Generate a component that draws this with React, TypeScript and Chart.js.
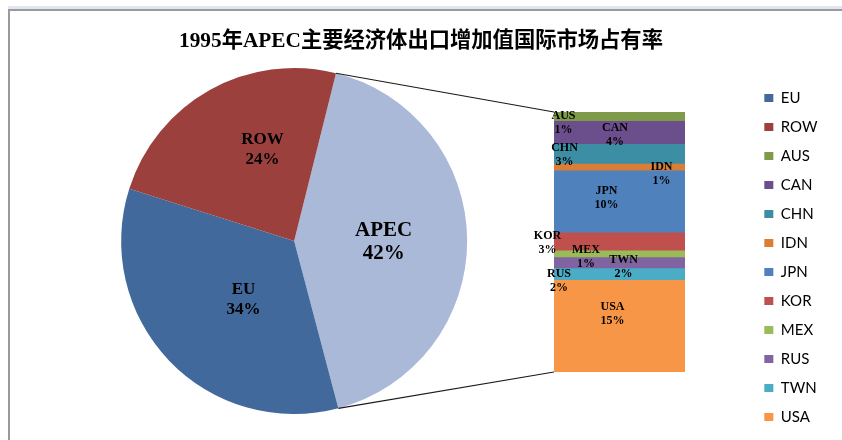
import React, { useEffect, useRef } from 'react';
import { Chart, registerables } from 'chart.js';

Chart.register(...registerables);

// ---------- data ----------
const TITLE = '1995年APEC主要经济体出口增加值国际市场占有率';
const PIE_LABELS = ['APEC', 'EU', 'ROW'];
const PIE_OTHER_LABELS = ['EU', 'ROW'];
const PIE_OTHER_VALUES = [34, 24];
const BAR_LABELS = ['AUS', 'CAN', 'CHN', 'IDN', 'JPN', 'KOR', 'MEX', 'RUS', 'TWN', 'USA'];
const BAR_VALUES = [1.4, 3.7, 3.2, 1.1, 10.0, 2.9, 1.1, 1.8, 1.9, 14.9];

// ---------- styles ----------
const PIE_COLORS = ['#AAB9D7', '#42699B', '#9C403D'];
const BAR_COLORS = ['#7F9A48', '#6A4F8C', '#3C8EA4', '#DA7D35', '#4F81BD', '#C0504D', '#9BBB59', '#8064A2', '#4BACC6', '#F79646'];
const BAR_LABEL_OFFSETS: [number, number][] = [
  [-56, 6.5], [-4.5, 2.5], [-55, 1], [42, 7.5], [-13, -3.5],
  [-72, 2], [-33.5, 3.5], [-60.5, 18], [4, -6.5], [-7, -11.5],
];
const PIE_LABEL_OFFSETS: [number, number][] = [[3, 2], [12, -1], [10.5, -16]];
const BAR_BOX = { left: 520, top: 100, width: 180, height: 285 };
const SERIF = '"Liberation Serif", "Times New Roman", "Noto Sans CJK SC", serif';

function drawTwoLines(ctx: CanvasRenderingContext2D, x: number, y: number, l1: string, l2: string, font: string, lh: number) {
  ctx.save();
  ctx.font = font;
  ctx.fillStyle = '#000';
  ctx.textAlign = 'center';
  ctx.textBaseline = 'middle';
  ctx.fillText(l1, x, y - lh / 2);
  ctx.fillText(l2, x, y + lh / 2);
  ctx.restore();
}

export default function App() {
  const pieRef = useRef<HTMLCanvasElement>(null);
  const barRef = useRef<HTMLCanvasElement>(null);

  useEffect(() => {
    const total = BAR_VALUES.reduce((a, b) => a + b, 0);
    const pieValues = [total, ...PIE_OTHER_VALUES];
    const grand = pieValues.reduce((a, b) => a + b, 0);

    const barLabelPlugin = {
      id: 'barLabels',
      afterDatasetsDraw(chart: any) {
        const ctx = chart.ctx;
        chart.data.datasets.forEach((_ds: any, i: number) => {
          const el: any = chart.getDatasetMeta(i).data[0];
          const cy = (el.y + el.base) / 2;
          const [dx, dy] = BAR_LABEL_OFFSETS[i];
          drawTwoLines(ctx, el.x + dx, cy + dy, BAR_LABELS[i],
            Math.round((BAR_VALUES[i] / grand) * 100) + '%', `bold 12px ${SERIF}`, 14);
        });
      },
    };

    const barChart = new Chart(barRef.current as HTMLCanvasElement, {
      type: 'bar',
      data: {
        labels: ['APEC'],
        datasets: BAR_LABELS.map((l, i) => ({
          label: l,
          data: [BAR_VALUES[i]],
          backgroundColor: BAR_COLORS[i],
          borderWidth: 0,
          barPercentage: 1,
          categoryPercentage: 1,
        })),
      },
      options: {
        responsive: false,
        animation: false,
        layout: { padding: { left: 34, top: 12, right: 15, bottom: 13 } },
        scales: {
          x: { stacked: true, display: false },
          y: { stacked: true, display: false, reverse: true, min: 0, max: total },
        },
        plugins: { legend: { display: false }, tooltip: { enabled: false } },
      },
      plugins: [barLabelPlugin],
    } as any);

    const pieDecor = {
      id: 'pieDecor',
      afterDatasetsDraw(chart: any) {
        const ctx = chart.ctx;
        const meta = chart.getDatasetMeta(0);
        meta.data.forEach((arc: any, i: number) => {
          const p = arc.tooltipPosition(false);
          const [dx, dy] = PIE_LABEL_OFFSETS[i];
          const big = i === 0;
          drawTwoLines(ctx, p.x + dx, p.y + dy, PIE_LABELS[i],
            Math.round((pieValues[i] / grand) * 100) + '%',
            `bold ${big ? 21 : 17}px ${SERIF}`, big ? 23 : 20);
        });
        const a: any = meta.data[0];
        const ys: any = barChart.scales.y;
        const bel: any = barChart.getDatasetMeta(0).data[0];
        const bx = BAR_BOX.left + bel.x - bel.width / 2;
        const by0 = BAR_BOX.top + ys.getPixelForValue(0);
        const by1 = BAR_BOX.top + ys.getPixelForValue(total);
        ctx.save();
        ctx.strokeStyle = '#1a1a1a';
        ctx.lineWidth = 1.2;
        ctx.beginPath();
        ctx.moveTo(a.x + a.outerRadius * Math.cos(a.startAngle), a.y + a.outerRadius * Math.sin(a.startAngle));
        ctx.lineTo(bx, by0);
        ctx.moveTo(a.x + a.outerRadius * Math.cos(a.endAngle), a.y + a.outerRadius * Math.sin(a.endAngle));
        ctx.lineTo(bx, by1);
        ctx.stroke();
        ctx.restore();
      },
    };

    const pieChart = new Chart(pieRef.current as HTMLCanvasElement, {
      type: 'pie',
      data: {
        labels: PIE_LABELS,
        datasets: [{
          data: pieValues,
          backgroundColor: PIE_COLORS,
          borderWidth: 0,
          rotation: 14,
          radius: 173,
        }],
      },
      options: {
        responsive: false,
        animation: false,
        layout: { padding: { left: 14.5, right: 14.5, top: 0, bottom: 1.5 } },
        scales: {
          spacerR: {
            type: 'linear', axis: 'y', position: 'right', display: true,
            ticks: { display: false }, grid: { display: false }, border: { display: false },
            afterFit: (s: any) => { s.width = 176.5; },
          },
          spacerB: {
            type: 'linear', axis: 'x', position: 'bottom', display: true,
            ticks: { display: false }, grid: { display: false }, border: { display: false },
            afterFit: (s: any) => { s.height = 15.1; },
          },
        },
        plugins: {
          tooltip: { enabled: false },
          title: {
            display: true,
            text: TITLE,
            color: '#000',
            font: { family: SERIF, size: 21.3, weight: 'bold', lineHeight: 1.2 },
            padding: { top: 29.2, bottom: 4 },
          },
          legend: {
            display: true,
            position: 'right',
            align: 'end',
            onClick: () => {},
            labels: {
              boxWidth: 9,
              boxHeight: 8,
              padding: 14,
              color: '#262626',
              font: { family: 'Lato, "Open Sans", sans-serif', size: 15 },
              generateLabels: () => [
                ...PIE_OTHER_LABELS.map((t, i) => ({
                  text: t, fillStyle: PIE_COLORS[i + 1], strokeStyle: PIE_COLORS[i + 1], lineWidth: 0, hidden: false,
                })),
                ...BAR_LABELS.map((t, i) => ({
                  text: t, fillStyle: BAR_COLORS[i], strokeStyle: BAR_COLORS[i], lineWidth: 0, hidden: false,
                })),
              ],
            },
          },
        },
      },
      plugins: [pieDecor],
    } as any);

    return () => {
      pieChart.destroy();
      barChart.destroy();
    };
  }, []);

  return (
    <div style={{ position: 'absolute', left: 0, top: 0, width: 842, height: 440, background: '#fff', overflow: 'hidden' }}>
      <div style={{ position: 'absolute', left: 8, top: 6, width: 834, height: 3, background: '#dfe6ef' }} />
      <div style={{ position: 'absolute', left: 8, top: 9, width: 834, height: 431, borderTop: '2px solid #9a9a9a', borderLeft: '2px solid #9a9a9a', boxSizing: 'border-box' }} />
      <canvas ref={pieRef} width={842} height={440} style={{ position: 'absolute', left: 0, top: 0, width: 842, height: 440 }} />
      <canvas ref={barRef} width={BAR_BOX.width} height={BAR_BOX.height}
        style={{ position: 'absolute', left: BAR_BOX.left, top: BAR_BOX.top, width: BAR_BOX.width, height: BAR_BOX.height }} />
    </div>
  );
}
